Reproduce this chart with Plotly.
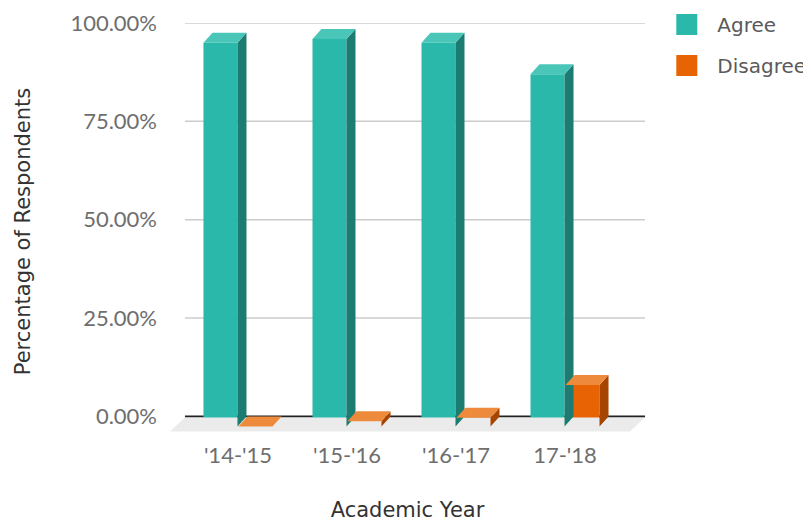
import plotly.graph_objects as go

# ---- data ----
years = ["'14-'15", "'15-'16", "'16-'17", "17-'18"]
agree = [97.5, 98.5, 97.5, 89.5]
disagree = [0.0, 1.3, 2.2, 10.5]
y_ticks = [0, 25, 50, 75, 100]
y_ticktext = [f"{t:.2f}%" for t in y_ticks]

# ---- styling / geometry (pseudo-3D) ----
PX_PER_UNIT_X = 109.0
PX_PER_PCT = 3.93
DX = 9 / PX_PER_UNIT_X        # depth offset in x units
DY = 10 / PX_PER_PCT          # depth offset in % units
BAR_W = 34 / PX_PER_UNIT_X
HALF_GAP = 17.5 / PX_PER_UNIT_X

series = [
    ("Agree", agree, -HALF_GAP, "#29b8a9", "#1d7c72", "#4ac6b8"),
    ("Disagree", disagree, HALF_GAP, "#e76304", "#a54500", "#ee8a3c"),
]

fig = go.Figure()

# floor
x_left, x_right = -0.569, 3.651
fdx, fdy = 15 / PX_PER_UNIT_X, 15 / PX_PER_PCT
fig.add_trace(go.Scatter(
    x=[x_left, x_right, x_right - fdx, x_left - fdx, x_left],
    y=[-0.3, -0.3, -fdy, -fdy, -0.3],
    fill="toself", fillcolor="#ebebeb", line=dict(width=0),
    mode="lines", hoverinfo="skip", showlegend=False))

for name, vals, off, c_front, c_side, c_top in series:
    side_x, side_y, top_x, top_y = [], [], [], []
    fx = []
    for i, v in enumerate(vals):
        cx = i - DX + off
        fx.append(cx)
        xl, xr = cx - BAR_W / 2, cx + BAR_W / 2
        base, top = -DY, v - DY
        side_x += [xr, xr, xr + DX, xr + DX, xr, None]
        side_y += [base, top, top + DY, base + DY, base, None]
        top_x += [xl, xr, xr + DX, xl + DX, xl, None]
        top_y += [top, top, top + DY, top + DY, top, None]
    fig.add_trace(go.Scatter(x=side_x, y=side_y, fill="toself", fillcolor=c_side,
                             line=dict(width=0), mode="lines", hoverinfo="skip",
                             showlegend=False, legendgroup=name))
    fig.add_trace(go.Scatter(x=top_x, y=top_y, fill="toself", fillcolor=c_top,
                             line=dict(width=0), mode="lines", hoverinfo="skip",
                             showlegend=False, legendgroup=name))
    fig.add_trace(go.Bar(x=fx, y=vals, base=[-DY] * len(vals), width=BAR_W,
                         marker=dict(color=c_front, line=dict(width=0)),
                         name=name, showlegend=False, legendgroup=name))
    fig.add_trace(go.Scatter(x=[None], y=[None], mode="markers", name=name,
                             legendgroup=name,
                             marker=dict(symbol="square", size=16, color=c_front,
                                         line=dict(color=c_front, width=5))))

# gridlines
shapes = []
for t in y_ticks:
    shapes.append(dict(type="line", xref="x", yref="y", x0=x_left, x1=x_right,
                       y0=t, y1=t, layer="below",
                       line=dict(color="#222" if t == 0 else "#cccccc",
                                 width=2 if t == 0 else 1.5)))

TITLE_FONT = dict(family="DejaVu Sans", size=21, color="#333333")

# page has an 8px body margin: the figure is sized/placed to compensate
fig.update_layout(
    width=803, height=515,
    margin=dict(l=157, r=161, t=15, b=83.4, autoexpand=False),
    paper_bgcolor="white", plot_bgcolor="white",
    barmode="overlay",
    shapes=shapes,
    font=dict(family="Lato", color="#6e6e6e", size=22),
    showlegend=True,
    legend=dict(x=1.013, y=1.043, xanchor="left", yanchor="top",
                font=dict(family="DejaVu Sans", size=20, color="#5a5a5a"),
                itemsizing="trace", itemwidth=51,
                traceorder="grouped", tracegroupgap=12),
    xaxis=dict(range=[-0.752, 3.697], showgrid=False, zeroline=False,
               tickvals=[i - DX for i in range(len(years))], ticktext=years,
               ticks="", showline=False,
               title=dict(text="Academic Year", standoff=35, font=TITLE_FONT)),
    yaxis=dict(range=[-6, 100], showgrid=False, zeroline=False,
               tickvals=y_ticks, ticktext=y_ticktext, ticks="",
               ticklabelstandoff=7,
               title=dict(text="Percentage of Respondents", standoff=34,
                          font=TITLE_FONT)),
)

fig.write_html("out.html")
